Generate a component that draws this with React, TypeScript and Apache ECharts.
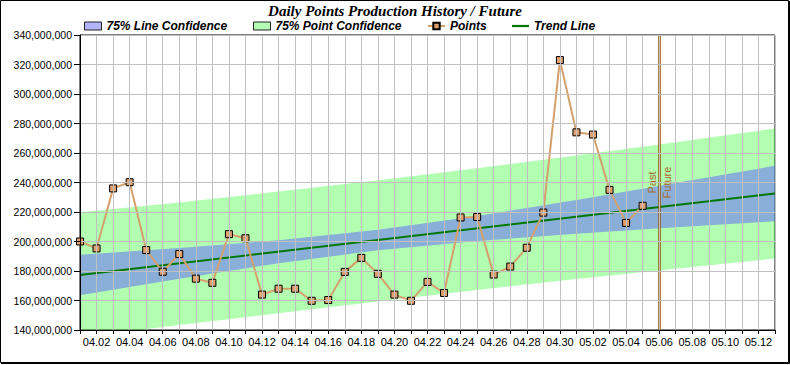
import React, { useEffect, useRef } from "react";
import * as echarts from "echarts";

const categories = [
  "04.01", "04.02", "04.03", "04.04", "04.05", "04.06", "04.07", "04.08", "04.09", "04.10",
  "04.11", "04.12", "04.13", "04.14", "04.15", "04.16", "04.17", "04.18", "04.19", "04.20",
  "04.21", "04.22", "04.23", "04.24", "04.25", "04.26", "04.27", "04.28", "04.29", "04.30",
  "05.01", "05.02", "05.03", "05.04", "05.05", "05.06", "05.07", "05.08", "05.09", "05.10",
  "05.11", "05.12", "05.13",
];

// Daily points (millions), 04.01 .. 05.05
const pointsM = [
  200.0, 195.3, 236.0, 240.2, 194.2, 179.5, 191.5, 174.8, 172.0, 205.0,
  202.2, 164.0, 168.0, 168.0, 159.8, 160.3, 179.4, 188.9, 178.1, 164.0,
  159.8, 172.6, 165.1, 216.3, 216.6, 177.6, 183.0, 195.8, 219.6, 323.0,
  274.0, 272.5, 235.0, 212.6, 224.2,
];

// Trend line end points (day index, millions)
const trendDays = [0, 42];
const trendM = [177.3, 232.5];

// Confidence bands sampled at these day indexes (millions)
const bandDays = [0, 6, 12, 18, 24, 30, 36, 42];
const lineConfUpperM = [191.1, 195.6, 200.9, 208.0, 217.3, 228.2, 239.6, 251.3];
const lineConfLowerM = [163.5, 174.8, 185.3, 194.0, 200.3, 205.2, 209.6, 213.7];
const pointConfUpperM = [219.8, 226.5, 233.9, 241.6, 249.7, 258.3, 267.3, 276.6];
const pointConfLowerM = [134.8, 143.4, 151.3, 159.4, 167.2, 174.6, 181.6, 188.4];

const splitDay = "05.06";

const M = 1e6;
const SANS = "'Liberation Sans', Arial, sans-serif";
const SERIF = "'Liberation Serif', 'Times New Roman', serif";

const legendText = {
  fontFamily: SANS,
  fontSize: 12,
  fontWeight: "bold" as const,
  fontStyle: "italic" as const,
  color: "#000",
};

const legendBase = {
  top: 20, padding: 0, itemWidth: 17, itemHeight: 8, itemGap: 10,
  selectedMode: false, textStyle: legendText,
};

const markLabel = { show: true, distance: 2, color: "#a8682a", fontFamily: SANS, fontSize: 11 };

export default function App() {
  const ref = useRef<HTMLDivElement>(null);

  useEffect(() => {
    document.body.style.margin = "0";
    if (!ref.current) return;
    const chart = echarts.init(ref.current, undefined, { renderer: "svg" });

    const base = (arr: number[]) => bandDays.map((d, i) => [d, arr[i] * M]);
    const diff = (up: number[], lo: number[]) => bandDays.map((d, i) => [d, (up[i] - lo[i]) * M]);

    const option: any = {
      animation: false,
      backgroundColor: "#fff",
      title: {
        text: "Daily Points Production History / Future",
        left: "center",
        top: 3,
        padding: 0,
        textStyle: {
          fontFamily: SERIF,
          fontSize: 15,
          fontWeight: "bold",
          fontStyle: "italic",
          color: "#000",
        },
      },
      legend: [
        {
          ...legendBase, left: 84,
          data: [{ name: "75% Line Confidence", icon: "rect", itemStyle: { color: "#b4b4fc", borderColor: "#222", borderWidth: 1 } }],
        },
        {
          ...legendBase, left: 253,
          data: [{ name: "75% Point Confidence", icon: "rect", itemStyle: { color: "#b4fcb4", borderColor: "#222", borderWidth: 1 } }],
        },
        {
          ...legendBase, left: 427,
          data: ["Points"],
        },
        {
          ...legendBase, left: 512,
          data: [{ name: "Trend Line", icon: "path://M0,0L17,0L17,2.2L0,2.2Z", itemStyle: { color: "#007800" } }],
        },
      ],
      grid: {
        left: 80, top: 35, right: 15, bottom: 35,
        show: true, borderColor: "#000", borderWidth: 1, backgroundColor: "transparent",
      },
      xAxis: {
        type: "category",
        data: categories,
        boundaryGap: false,
        z: 10,
        axisLine: { lineStyle: { color: "#000", width: 1 } },
        axisTick: { interval: 0, length: 4, lineStyle: { color: "#000" } },
        axisLabel: {
          interval: (i: number) => i % 2 === 1,
          fontFamily: SANS, fontSize: 11, color: "#000", margin: 6,
        },
        splitLine: { show: true, interval: 0, lineStyle: { color: "#c0c0c0", width: 1 } },
      },
      yAxis: {
        type: "value",
        min: 140 * M,
        max: 340 * M,
        interval: 20 * M,
        z: 10,
        axisLine: { show: true, lineStyle: { color: "#000", width: 1 } },
        axisTick: { show: true, length: 6, lineStyle: { color: "#000" } },
        axisLabel: {
          fontFamily: SANS, fontSize: 10.5, color: "#000", margin: 8,
          formatter: (v: number) => Math.round(v).toLocaleString("en-US"),
        },
        splitLine: { show: true, lineStyle: { color: "#c0c0c0", width: 1 } },
      },
      series: [
        {
          name: "pcBase", type: "line", stack: "pc", data: base(pointConfLowerM),
          symbol: "none", lineStyle: { opacity: 0 }, silent: true, z: 1,
        },
        {
          name: "75% Point Confidence", type: "line", stack: "pc", data: diff(pointConfUpperM, pointConfLowerM),
          symbol: "none", lineStyle: { opacity: 0 }, silent: true, z: 1,
          itemStyle: { color: "#b4fcb4" },
          areaStyle: { color: "rgba(0,255,0,0.3)", opacity: 1 },
        },
        {
          name: "lcBase", type: "line", stack: "lc", data: base(lineConfLowerM),
          symbol: "none", lineStyle: { opacity: 0 }, silent: true, z: 2,
        },
        {
          name: "75% Line Confidence", type: "line", stack: "lc", data: diff(lineConfUpperM, lineConfLowerM),
          symbol: "none", lineStyle: { opacity: 0 }, silent: true, z: 2,
          itemStyle: { color: "#b4b4fc" },
          areaStyle: { color: "rgba(96,96,255,0.5)", opacity: 1 },
        },
        {
          name: "Trend Line", type: "line",
          data: trendDays.map((d, i) => [d, trendM[i] * M]),
          symbol: "none", z: 3,
          itemStyle: { color: "#007800" },
          lineStyle: { color: "#007800", width: 2 },
          markLine: {
            silent: true,
            symbol: "none",
            lineStyle: { color: "#9a5500", width: 2.5, type: "solid" },
            data: [
              {
                xAxis: splitDay,
                label: { ...markLabel, formatter: "Past", position: "insideMiddleTop" },
              },
              {
                xAxis: splitDay,
                lineStyle: { color: "rgba(0,0,0,0)", width: 0.01 },
                label: { ...markLabel, formatter: "Future", position: "insideMiddleBottom" },
              },
            ],
          },
        },
        {
          name: "Points", type: "line",
          data: pointsM.map((v) => v * M),
          symbol: "rect", symbolSize: 7, z: 4,
          itemStyle: { color: "#e0a070", borderColor: "#000", borderWidth: 1 },
          lineStyle: { color: "#d4a06c", width: 2 },
        },
      ],
      graphic: [
        {
          type: "rect",
          silent: true,
          shape: { x: 0.5, y: 0.5, width: 788, height: 362 },
          style: { fill: "none", stroke: "#000", lineWidth: 1 },
          z: 100,
        },
        {
          type: "polyline",
          silent: true,
          shape: { points: [[789.5, 1], [789.5, 363.5], [1, 363.5]] },
          style: { fill: "none", stroke: "#000", lineWidth: 1 },
          z: 100,
        },
      ],
    };

    chart.setOption(option);
    return () => chart.dispose();
  }, []);

  return <div ref={ref} style={{ width: 790, height: 365 }} />;
}
